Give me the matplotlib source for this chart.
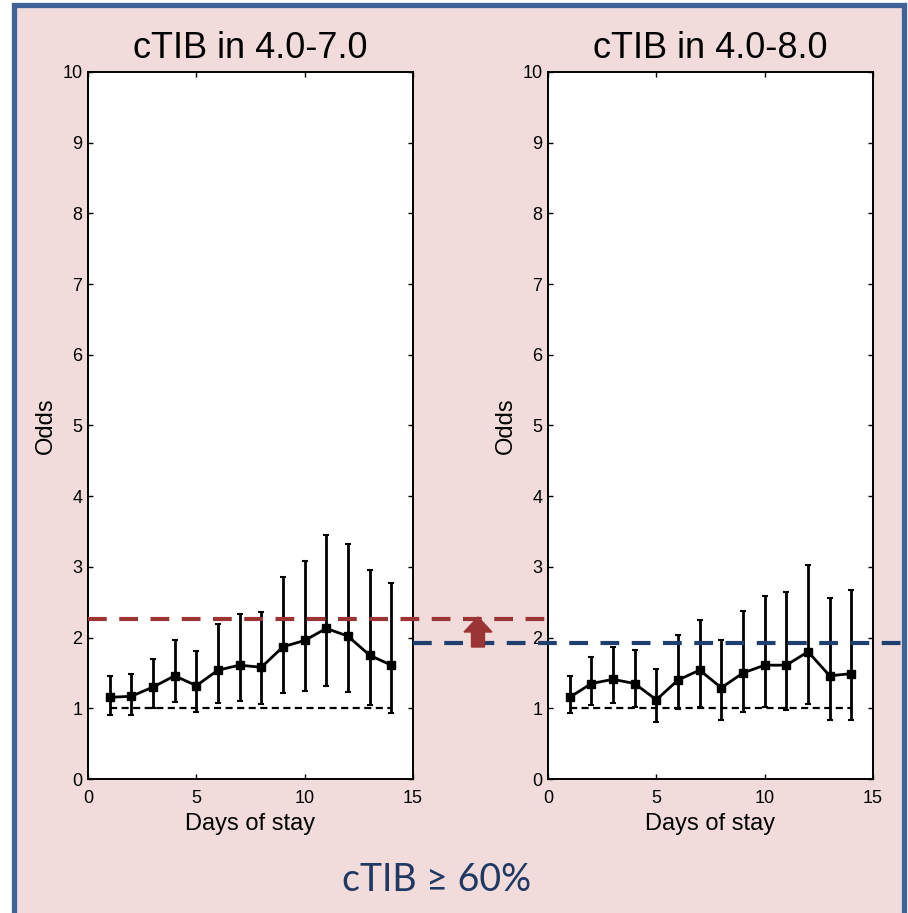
import matplotlib
matplotlib.use('Agg')
import matplotlib.pyplot as plt
from matplotlib.patches import Rectangle, FancyArrow
from matplotlib.lines import Line2D
import matplotlib.transforms as mtransforms

# data
days = list(range(1, 15))

odds_a = [1.155, 1.17, 1.30, 1.46, 1.32, 1.54, 1.61, 1.58, 1.87, 1.96, 2.13, 2.02, 1.75, 1.61]
upper_a = [1.46, 1.49, 1.70, 1.96, 1.81, 2.19, 2.34, 2.36, 2.86, 3.09, 3.45, 3.33, 2.96, 2.77]
lower_a = [0.91, 0.91, 1.00, 1.09, 0.95, 1.08, 1.11, 1.06, 1.21, 1.24, 1.32, 1.23, 1.04, 0.93]

odds_b = [1.155, 1.35, 1.41, 1.35, 1.12, 1.40, 1.54, 1.29, 1.50, 1.61, 1.61, 1.80, 1.46, 1.49]
upper_b = [1.46, 1.72, 1.86, 1.82, 1.56, 2.03, 2.25, 1.97, 2.37, 2.59, 2.65, 3.03, 2.56, 2.68]
lower_b = [0.93, 1.05, 1.08, 1.02, 0.80, 0.99, 1.02, 0.83, 0.95, 1.02, 0.97, 1.06, 0.83, 0.83]

ref_a = 2.26
ref_b = 1.93
titles = ['cTIB in 4.0-7.0', 'cTIB in 4.0-8.0']
caption = 'cTIB ≥ 60%'

pink = '#F2DCDB'
red = '#9B3535'
navy = '#1F3F6E'

plt.rcParams['font.family'] = ['Liberation Sans', 'DejaVu Sans']

W, H = 908, 913
fig = plt.figure(figsize=(W / 100, H / 100), dpi=100)
fig.patch.set_facecolor('white')

# pink panel with blue frame
fig.patches.append(Rectangle((13.5 / W, -0.02), 890 / W, 1 - 5.5 / H + 0.02,
                             transform=fig.transFigure, facecolor=pink,
                             edgecolor='#3E6497', linewidth=3.8, zorder=-10))

ax1 = fig.add_axes([88 / W, (H - 779) / H, 325 / W, 707 / H])
ax2 = fig.add_axes([548 / W, (H - 779) / H, 325 / W, 707 / H])

for ax, y, up, lo, t in [(ax1, odds_a, upper_a, lower_a, titles[0]),
                         (ax2, odds_b, upper_b, lower_b, titles[1])]:
    yerr = [[a - b for a, b in zip(y, lo)], [b - a for a, b in zip(y, up)]]
    ax.plot([days[0], days[-1]], [1, 1], color='black', linestyle=(0, (3.2, 2)),
            linewidth=1.6, zorder=2)
    ax.errorbar(days, y, yerr=yerr, color='black', marker='s', markersize=6.2,
                linewidth=2, elinewidth=2, capsize=2, capthick=1.5, zorder=3)
    ax.set_xlim(0, 15)
    ax.set_ylim(0, 10)
    ax.set_xticks([0, 5, 10, 15])
    ax.set_yticks(range(0, 11))
    ax.tick_params(direction='in', top=True, right=True, length=3.5, width=1,
                   labelsize=13)
    ax.tick_params(axis='x', pad=8)
    ax.tick_params(axis='y', pad=4)
    for s in ax.spines.values():
        s.set_linewidth(1.4)
    ax.set_xlabel('Days of stay', fontsize=17, labelpad=4)
    ax.set_ylabel('Odds', fontsize=17, labelpad=4)
    ax.set_title(t, fontsize=26, pad=10)

# reference lines spanning across the panels
tr1 = mtransforms.blended_transform_factory(fig.transFigure, ax1.transData)
tr2 = mtransforms.blended_transform_factory(fig.transFigure, ax2.transData)
fig.add_artist(Line2D([88 / W, 548 / W], [ref_a, ref_a], transform=tr1, color=red,
                      linewidth=3, linestyle=(0, (4.5, 3)), zorder=5))
fig.add_artist(Line2D([413 / W, 903 / W], [ref_b, ref_b], transform=tr2, color=navy,
                      linewidth=3, linestyle=(0, (4.5, 3)), zorder=5))

# up arrow between the panels
fig.add_artist(FancyArrow(478 / 100, (H - 647) / 100, 0, 30 / 100, width=13 / 100,
                          head_width=28 / 100, head_length=15 / 100,
                          length_includes_head=True, transform=fig.dpi_scale_trans,
                          color=red, zorder=6))

fig.text(437 / W, (H - 880) / H, caption, ha='center', va='center', fontsize=27,
         color='#1F3864', family=['Lato', 'DejaVu Sans'])

fig.savefig('out.png', dpi=100)
